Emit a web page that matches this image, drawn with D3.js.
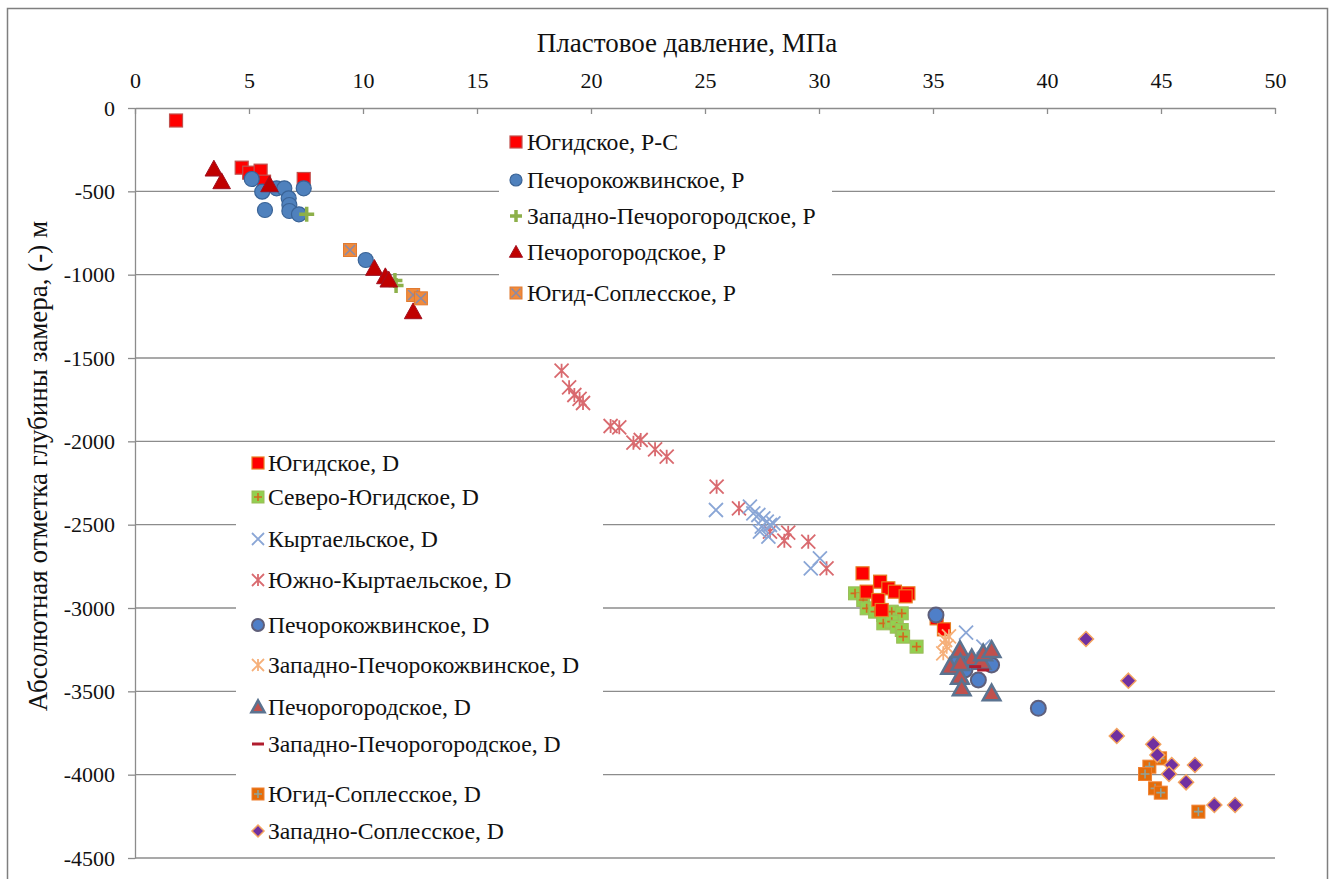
<!DOCTYPE html>
<html>
<head>
<meta charset="utf-8">
<script src="https://cdn.jsdelivr.net/npm/d3@7"></script>
<style>
  html, body { margin: 0; padding: 0; background: #fff; }
  svg { display: block; }
  svg text { font-family: "Liberation Serif", "DejaVu Serif", serif; }
</style>
</head>
<body>
<svg id="chart" width="1336" height="879"></svg>
<script>
// ---- axis ticks ----
const xTickValues = [0, 5, 10, 15, 20, 25, 30, 35, 40, 45, 50];
const yTickValues = [0, -500, -1000, -1500, -2000, -2500, -3000, -3500, -4000, -4500];

// ---- Пермские отложения (P) : [давление МПа, отметка м] ----
const yugidskoePC = [[1.8,-75],[4.68,-358],[5.01,-388],[5.51,-376],[5.66,-442],[7.40,-426]];
const pechorokozhP = [[5.12,-426],[5.58,-502],[5.70,-612],[6.21,-482],[6.55,-482],[6.74,-542],[6.77,-582],[6.77,-618],[7.19,-638],[7.40,-482],[10.12,-912]];
const zapPechorogorP = [[7.53,-638],[11.4,-1035],[11.45,-1065]];
const pechorogorP = [[3.46,-366],[3.80,-442],[5.9,-460],[10.5,-962],[10.98,-1012],[11.13,-1032],[12.2,-1222]];
const yugidSoplP = [[9.43,-852],[12.2,-1122],[12.54,-1142]];

// ---- Девонские отложения (D) ----
const yugidskoeD = [[31.91,-2792],[32.68,-2842],[32.09,-2902],[33.04,-2882],[33.33,-2902],[33.92,-2912],[33.8,-2930],[32.60,-2952],[32.75,-3012],[35.16,-3062],[35.48,-3128]];
const severoYugD = [[31.58,-2912],[31.94,-2952],[32.09,-3002],[32.46,-3022],[32.82,-3042],[33.19,-3022],[33.63,-3032],[32.82,-3092],[33.19,-3082],[33.41,-3112],[33.63,-3132],[33.69,-3172],[34.28,-3232]];
const kyrtaelD = [[25.48,-2412],[26.97,-2392],[27.12,-2432],[27.34,-2442],[27.56,-2462],[27.71,-2482],[27.85,-2502],[27.49,-2512],[28.0,-2492],[27.78,-2572],[27.41,-2542],[30.04,-2702],[29.64,-2762],[36.45,-3148],[37.21,-3232]];
const yuzhKyrtD = [[18.71,-1576],[19.04,-1676],[19.27,-1722],[19.5,-1745],[19.65,-1770],[20.86,-1908],[21.24,-1916],[21.86,-2008],[22.18,-1992],[22.81,-2048],[23.32,-2092],[25.51,-2272],[26.49,-2402],[27.85,-2542],[28.65,-2548],[28.48,-2596],[29.53,-2602],[30.33,-2762]];
const pechorokozhD = [[35.13,-3042],[36.1,-3322],[36.4,-3372],[36.99,-3432],[37.57,-3342],[39.62,-3602]];
const zapPechorokozhD = [[35.7,-3170],[35.53,-3192],[35.6,-3232],[35.45,-3272]];
const pechorogorD = [[35.75,-3352],[36.18,-3252],[36.18,-3412],[36.26,-3482],[36.7,-3302],[37.13,-3322],[37.2,-3272],[37.57,-3252],[37.57,-3512],[36.2,-3330]];
const zapPechorogorD = [[36.85,-3352],[37.2,-3372]];
const yugidSoplD = [[44.96,-3902],[44.49,-3952],[44.30,-3996],[44.74,-4082],[44.99,-4108],[46.64,-4222]];
const zapSoplD = [[41.71,-3186],[43.57,-3436],[43.06,-3768],[44.66,-3818],[44.84,-3882],[45.47,-3942],[45.35,-3996],[46.49,-3942],[46.10,-4046],[47.34,-4182],[48.25,-4182]];

// ---- legend labels ----
const legendP = ["Югидское, Р-С", "Печорокожвинское, Р", "Западно-Печорогородское, Р", "Печорогородское, Р", "Югид-Соплесское, Р"];
const legendD = ["Югидское, D", "Северо-Югидское, D", "Кыртаельское,  D", "Южно-Кыртаельское, D", "Печорокожвинское, D",
                 "Западно-Печорокожвинское, D", "Печорогородское, D", "Западно-Печорогородское, D", "Югид-Соплесское, D", "Западно-Соплесское, D"];

// ---- marker styles ----
const styles = {
  yugPC:   {shape: "square",   fill: "#ff0000", stroke: "#c0504d", sw: 1.2},
  pkP:     {shape: "circle",   fill: "#4f81bd", stroke: "#3a6396", sw: 1.2},
  zpgP:    {shape: "plus",     stroke: "#8db04a", sw: 3.5},
  pgP:     {shape: "triangle", fill: "#c00000", stroke: "#a01020", sw: 1},
  ysP:     {shape: "squareX",  fill: "#f08a3c", stroke: "#e07a30", sw: 1, inner: "#8a8aa8"},
  yugD:    {shape: "square",   fill: "#ff0000", stroke: "#e67e22", sw: 1.2},
  syD:     {shape: "squarePlus", fill: "#92d050", stroke: "#9bbb59", sw: 1, inner: "#d2691e"},
  kD:      {shape: "x",        stroke: "#8aa6d6", sw: 1.8},
  ykD:     {shape: "asterisk", stroke: "#d96a6f", sw: 1.8},
  pkD:     {shape: "circle",   fill: "#4f7fc8", stroke: "#5f5f7a", sw: 2},
  zpkD:    {shape: "asterisk", stroke: "#f6b07a", sw: 1.8},
  pgD:     {shape: "triangle", fill: "#c0504d", stroke: "#5b7390", sw: 2.5},
  zpgD:    {shape: "dash",     stroke: "#b01c2e", sw: 3},
  ysD:     {shape: "squarePlus", fill: "#e46c0a", stroke: "#f08030", sw: 1, inner: "#8fa39a"},
  zsD:     {shape: "diamond",  fill: "#7030a0", stroke: "#f4a460", sw: 1.5}
};

const seriesP = [
  {data: yugidskoePC, st: "yugPC"}, {data: pechorokozhP, st: "pkP"}, {data: zapPechorogorP, st: "zpgP"},
  {data: pechorogorP, st: "pgP"}, {data: yugidSoplP, st: "ysP"}
];
const seriesD = [
  {data: yugidSoplD, st: "ysD"}, {data: zapSoplD, st: "zsD"},
  {data: yuzhKyrtD, st: "ykD"}, {data: kyrtaelD, st: "kD"},
  {data: severoYugD, st: "syD"}, {data: yugidskoeD, st: "yugD"},
  {data: pechorokozhD, st: "pkD"}, {data: zapPechorokozhD, st: "zpkD"},
  {data: pechorogorD, st: "pgD"}, {data: zapPechorogorD, st: "zpgD"}
];
const legendPStyles = ["yugPC", "pkP", "zpgP", "pgP", "ysP"];
const legendDStyles = ["yugD", "syD", "kD", "ykD", "pkD", "zpkD", "pgD", "zpgD", "ysD", "zsD"];

const svg = d3.select("#chart");
const FONT = "'Liberation Serif', 'DejaVu Serif', serif";

// outer frame
svg.append("rect").attr("x", 7.5).attr("y", 8.5).attr("width", 1320).attr("height", 880)
  .attr("fill", "#fff").attr("stroke", "#7f7f7f").attr("stroke-width", 1.5);

const x = d3.scaleLinear().domain([0, 50]).range([135, 1275]);
const y = d3.scaleLinear().domain([0, -4500]).range([108, 858]);

const gridColor = "#8c8c8c";

// horizontal gridlines
svg.append("g").selectAll("line").data(yTickValues.filter(v => v !== 0)).join("line")
  .attr("x1", x(0)).attr("x2", x(50)).attr("y1", d => y(d)).attr("y2", d => y(d))
  .attr("stroke", gridColor).attr("stroke-width", 1.3);

// x axis on top, ticks pointing into the plot
const xAxis = svg.append("g").attr("transform", `translate(0,${y(0)})`)
  .call(d3.axisTop(x).tickValues(xTickValues).tickSizeInner(-6).tickSizeOuter(0).tickPadding(20).tickFormat(d3.format("d")));
// y axis on the left
const yAxis = svg.append("g").attr("transform", `translate(${x(0)},0)`)
  .call(d3.axisLeft(y).tickValues(yTickValues).tickSizeInner(7).tickSizeOuter(0).tickPadding(13).tickFormat(d3.format("d")));
[xAxis, yAxis].forEach(a => {
  a.attr("font-family", FONT).attr("font-size", 22);
  a.select(".domain").attr("stroke", gridColor).attr("stroke-width", 1.3);
  a.selectAll(".tick line").attr("stroke", gridColor).attr("stroke-width", 1.3);
  a.selectAll(".tick text").attr("fill", "#111").style("font-family", FONT).style("font-size", "22px");
});
yAxis.selectAll(".tick text").text(d => d === 0 ? "0" : "-" + Math.abs(d));

// axis titles
svg.append("text").attr("x", 687).attr("y", 52).attr("text-anchor", "middle")
  .style("font-family", FONT).style("font-size", "27px").attr("fill", "#111").text("Пластовое давление, МПа");
svg.append("text").attr("transform", "translate(47,466) rotate(-90)").attr("text-anchor", "middle")
  .style("font-family", FONT).style("font-size", "27px").attr("fill", "#111").text("Абсолютная отметка глубины замера, (-) м");

// legend backgrounds (cover gridlines)
svg.append("rect").attr("x", 499).attr("y", 118).attr("width", 333).attr("height", 200).attr("fill", "#fff");
svg.append("rect").attr("x", 236).attr("y", 447).attr("width", 367).attr("height", 400).attr("fill", "#fff");

// ---- marker drawing ----
function drawMarker(g, key, cx, cy, s) {
  const st = styles[key];
  const h = s / 2;
  const grp = g.append("g").attr("transform", `translate(${cx},${cy})`);
  switch (st.shape) {
    case "square":
      grp.append("rect").attr("x", -h).attr("y", -h).attr("width", s).attr("height", s)
        .attr("fill", st.fill).attr("stroke", st.stroke).attr("stroke-width", st.sw);
      break;
    case "squareX":
      grp.append("rect").attr("x", -h).attr("y", -h).attr("width", s).attr("height", s)
        .attr("fill", st.fill).attr("stroke", st.stroke).attr("stroke-width", st.sw);
      grp.append("path").attr("d", `M${-h+1.5},${-h+1.5}L${h-1.5},${h-1.5}M${-h+1.5},${h-1.5}L${h-1.5},${-h+1.5}`)
        .attr("stroke", st.inner).attr("stroke-width", 1.5).attr("fill", "none");
      break;
    case "squarePlus":
      grp.append("rect").attr("x", -h).attr("y", -h).attr("width", s).attr("height", s)
        .attr("fill", st.fill).attr("stroke", st.stroke).attr("stroke-width", st.sw);
      grp.append("path").attr("d", `M${-h+2},0H${h-2}M0,${-h+2}V${h-2}`)
        .attr("stroke", st.inner).attr("stroke-width", 1.6).attr("fill", "none");
      break;
    case "circle":
      grp.append("circle").attr("r", h).attr("fill", st.fill).attr("stroke", st.stroke).attr("stroke-width", st.sw);
      break;
    case "triangle": {
      const t = h * 1.1;
      grp.append("path").attr("d", `M0,${-t}L${t},${t*0.8}L${-t},${t*0.8}Z`)
        .attr("fill", st.fill).attr("stroke", st.stroke).attr("stroke-width", st.sw).attr("stroke-linejoin", "miter");
      break;
    }
    case "diamond":
      grp.append("path").attr("d", `M0,${-h}L${h},0L0,${h}L${-h},0Z`)
        .attr("fill", st.fill).attr("stroke", st.stroke).attr("stroke-width", st.sw);
      break;
    case "plus":
      grp.append("path").attr("d", `M${-h},0H${h}M0,${-h}V${h}`)
        .attr("stroke", st.stroke).attr("stroke-width", st.sw).attr("fill", "none");
      break;
    case "x":
      grp.append("path").attr("d", `M${-h},${-h}L${h},${h}M${-h},${h}L${h},${-h}`)
        .attr("stroke", st.stroke).attr("stroke-width", st.sw).attr("fill", "none");
      break;
    case "asterisk":
      grp.append("path").attr("d", `M${-h},${-h}L${h},${h}M${-h},${h}L${h},${-h}M0,${-h}V${h}`)
        .attr("stroke", st.stroke).attr("stroke-width", st.sw).attr("fill", "none");
      break;
    case "dash":
      grp.append("path").attr("d", `M${-h},0H${h}`)
        .attr("stroke", st.stroke).attr("stroke-width", st.sw).attr("fill", "none");
      break;
  }
}

// ---- data points ----
const pts = svg.append("g");
const markerSize = {square: 13, squareX: 13, squarePlus: 13, circle: 15, triangle: 16, diamond: 15, plus: 15, x: 14, asterisk: 14, dash: 12};
[...seriesP, ...seriesD].forEach(sr => {
  sr.data.forEach(([px, dep]) => drawMarker(pts, sr.st, x(px), y(dep), markerSize[styles[sr.st].shape]));
});

// ---- legends ----
const legPRows = [142, 180, 216, 252, 293];
const legDRows = [463, 497, 539, 580, 625, 665, 707, 744, 794, 831];
const lg = svg.append("g");
legendP.forEach((lbl, i) => {
  drawMarker(lg, legendPStyles[i], 516, legPRows[i], 12);
  lg.append("text").attr("x", 527).attr("y", legPRows[i]).attr("dy", "0.33em")
    .style("font-family", FONT).style("font-size", "23.7px").attr("fill", "#111").text(lbl);
});
legendD.forEach((lbl, i) => {
  drawMarker(lg, legendDStyles[i], 258, legDRows[i], 12);
  lg.append("text").attr("x", 268).attr("y", legDRows[i]).attr("dy", "0.33em")
    .style("font-family", FONT).style("font-size", "23.7px").attr("fill", "#111").text(lbl);
});
</script>
</body>
</html>
